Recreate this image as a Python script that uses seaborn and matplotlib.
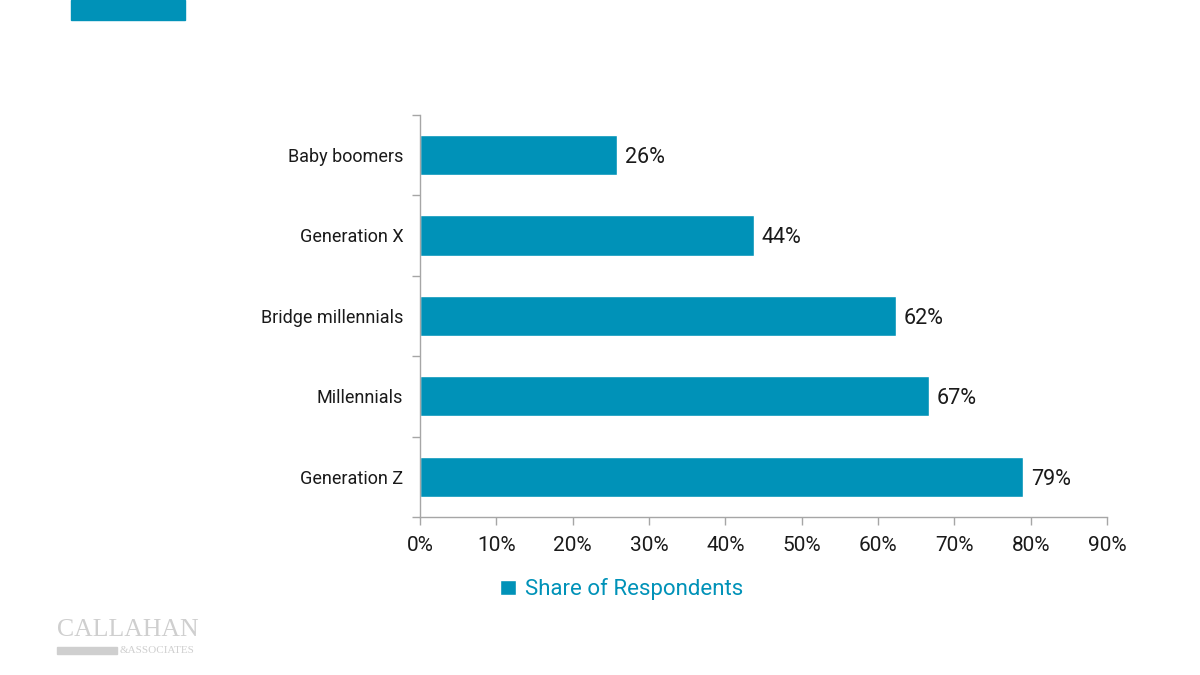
import pandas as pd
import numpy as np
import matplotlib
matplotlib.use('Agg')
import matplotlib.pyplot as plt
import seaborn as sns
from matplotlib.patches import Rectangle

generations = ['Baby boomers', 'Generation X', 'Bridge millennials', 'Millennials', 'Generation Z']
share = [0.258, 0.438, 0.623, 0.667, 0.79]
share_labels = ['26%', '44%', '62%', '67%', '79%']
xtick_vals = [0, 0.1, 0.2, 0.3, 0.4, 0.5, 0.6, 0.7, 0.8, 0.9]
series_name = 'Share of Respondents'

teal = '#0092B8'
gray = '#A6A6A6'

sns.set_style('white')
plt.rcParams['font.family'] = ['Roboto', 'DejaVu Sans']

df = pd.DataFrame({'generation': generations, 'share': share})

fig = plt.figure(figsize=(12, 6.75), dpi=100)
ax = fig.add_axes([0.35, 0.234, 0.5725, 0.596])

sns.barplot(data=df, x='share', y='generation', order=generations, color=teal,
            width=0.5, saturation=1, ax=ax, label=series_name)

for i, v in enumerate(share):
    ax.text(v + 0.01, i + 0.03, share_labels[i], va='center', ha='left', fontsize=15.5, color='#1a1a1a')

ax.set_xlim(0, 0.9)
ax.set_ylim(len(generations) - 0.5, -0.5)
ax.set_xticks(xtick_vals)
ax.set_xticklabels(['%d%%' % round(t * 100) for t in xtick_vals], fontsize=15, color='#1a1a1a')
ax.set_yticks(range(len(generations)))
ax.set_yticklabels(generations, fontsize=13, color='#1a1a1a')
ax.set_yticks(np.arange(-0.5, len(generations), 1), minor=True)
ax.tick_params(axis='y', which='major', left=False, length=0, pad=17)
ax.tick_params(axis='y', which='minor', left=True, length=6, color=gray, width=1)
ax.tick_params(axis='x', which='major', bottom=True, length=6, color=gray, width=1, pad=8, direction='out')
for lbl in ax.get_yticklabels():
    lbl.set_x(-0.0)
ax.set_xlabel('')
ax.set_ylabel('')
for s in ['top', 'right']:
    ax.spines[s].set_visible(False)
for s in ['left', 'bottom']:
    ax.spines[s].set_color(gray)
    ax.spines[s].set_linewidth(1)

# major y ticks have no mark, so the pad is measured from the spine
ax.tick_params(axis='y', which='major', pad=12)

leg = ax.legend(loc='center', bbox_to_anchor=(0.518, 0.127), bbox_transform=fig.transFigure,
                frameon=False, fontsize=16, handlelength=0.7, handleheight=0.7, handletextpad=0.4)
for t in leg.get_texts():
    t.set_color(teal)

# header block and logo
fig.patches.append(Rectangle((71 / 1200, 1 - 20 / 675), 114 / 1200, 20 / 675,
                             transform=fig.transFigure, color=teal, zorder=5))
fig.text(57 / 1200, 1 - 641 / 675, 'CALLAHAN', fontsize=18.5, family='Liberation Serif',
         color='#CFCFCF', va='bottom', ha='left')
fig.patches.append(Rectangle((57 / 1200, 1 - 654 / 675), 60 / 1200, 7 / 675,
                             transform=fig.transFigure, color='#CFCFCF'))
fig.text(120 / 1200, 1 - 655 / 675, '&ASSOCIATES', fontsize=8, family='Liberation Serif',
         color='#CFCFCF', va='bottom', ha='left')

fig.savefig('out.png', dpi=100)
